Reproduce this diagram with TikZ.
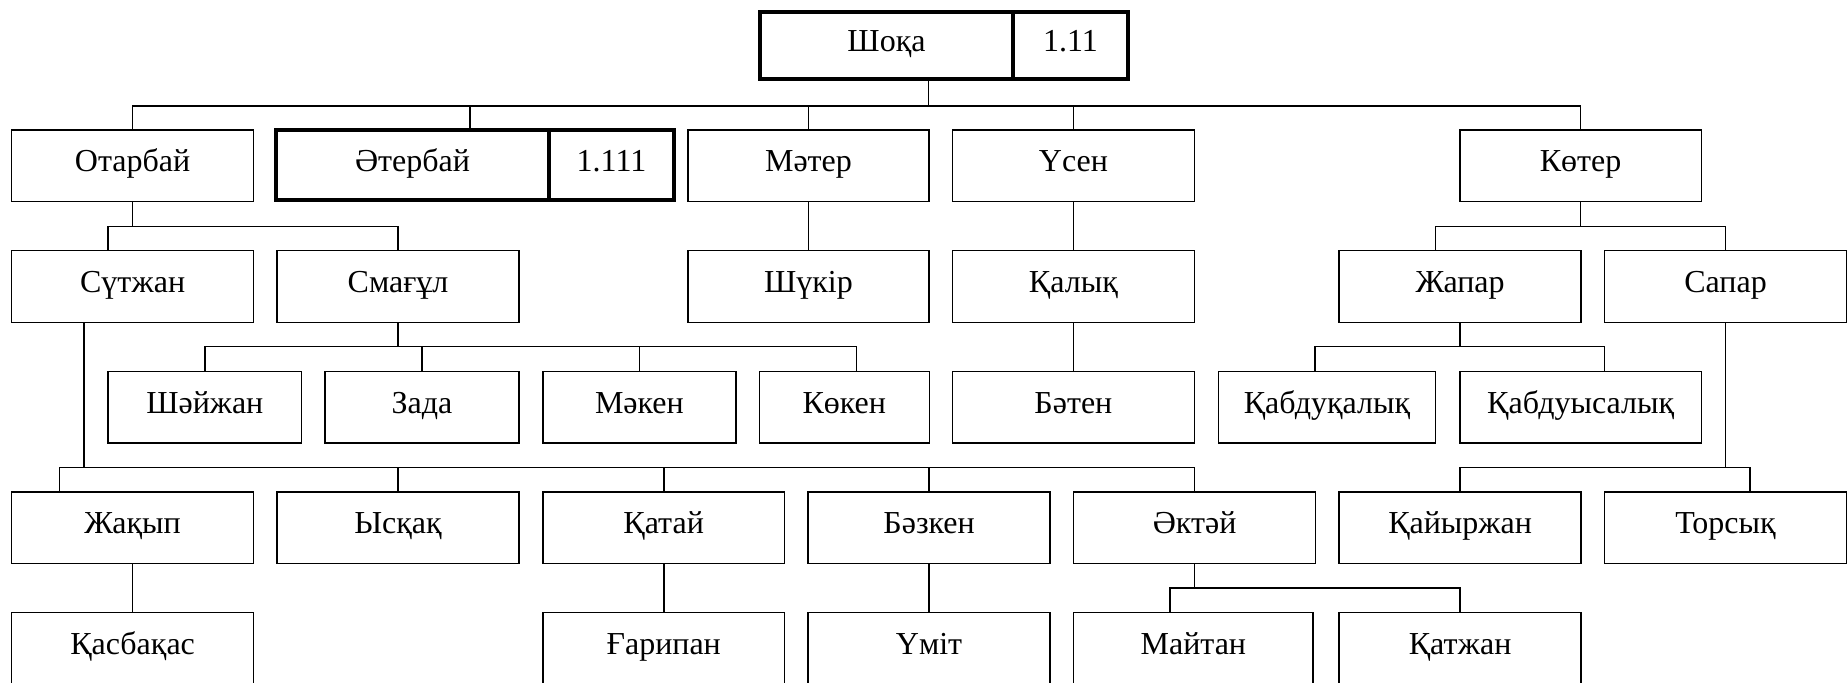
\documentclass[tikz,border=0pt]{standalone}
\usepackage{fontspec}
\setmainfont{Liberation Serif}
\usepackage{tikz}
\usetikzlibrary{positioning, calc}

\begin{document}
\begin{tikzpicture}[x=0.5pt, y=-0.5pt,
  font=\fontsize{16}{19}\selectfont,
  tulga/.style={draw, line width=0.75pt, inner sep=0pt, outer sep=0pt,
    minimum width=120.9pt, minimum height=35.85pt,
    text height=11.2pt, text depth=5.1pt},
  tulgaB/.style={tulga, line width=2pt},
  link/.style={line width=0.8pt}]

  % ── Cadre (1 px = 0.5 pt) ──
  \useasboundingbox (0,0) rectangle (1847,683);

  % ── Racine ──
  \node[tulgaB, minimum width=126.5pt, minimum height=33.75pt]
    (shoqa) at (886.5,45.75) {Шоқа};
  \node[tulgaB, minimum width=57.5pt, minimum height=33.75pt, right=0pt of shoqa]
    (shoqanum) {1.11};

  % ── Niveau 1 ──
  \node[tulga] (otarbay) at (132.6,165.85) {Отарбай};
  \node[tulgaB, minimum width=136.5pt, minimum height=34.85pt]
    (aterbay) at (412.5,165.15) {Әтербай};
  \node[tulgaB, minimum width=62.5pt, minimum height=34.85pt, right=0pt of aterbay]
    (aterbaynum) {1.111};
  \node[tulga, minimum width=120.5pt] (mater) at (808.5,165.85) {Мәтер};
  \node[tulga] (usen) at (1073.4,165.85) {Үсен};
  \node[tulga] (koter) at (1580.65,165.85) {Көтер};

  % ── Niveau 2 ──
  \node[tulga] (sutzhan) at (132.6,286.6) {Сүтжан};
  \node[tulga] (smagul) at (398,286.6) {Смағұл};
  \node[tulga, minimum width=120.5pt] (shukir) at (808.5,286.6) {Шүкір};
  \node[tulga] (qalyq) at (1073.4,286.6) {Қалық};
  \node[tulga] (zhapar) at (1460.1,286.6) {Жапар};
  \node[tulga] (sapar) at (1725.5,286.6) {Сапар};

  % ── Niveau 3 ──
  \node[tulga, minimum width=96.8pt] (shaizhan) at (204.8,407.15) {Шәйжан};
  \node[tulga, minimum width=96.9pt] (zada) at (421.9,407.15) {Зада};
  \node[tulga, minimum width=96.6pt] (maken) at (639.4,407.15) {Мәкен};
  \node[tulga, minimum width=85pt] (koken) at (844.3,407.15) {Көкен};
  \node[tulga] (baten) at (1073.4,407.15) {Бәтен};
  \node[tulga, minimum width=108.45pt] (qabduqalyq) at (1327,407.15) {Қабдуқалық};
  \node[tulga] (qabduysalyq) at (1580.65,407.15) {Қабдуысалық};

  % ── Niveau 4 ──
  \node[tulga] (zhaqyp) at (132.6,527.85) {Жақып};
  \node[tulga] (ysqaq) at (398,527.85) {Ысқақ};
  \node[tulga] (qatai) at (663.7,527.85) {Қатай};
  \node[tulga] (bazken) at (929.1,527.85) {Бәзкен};
  \node[tulga] (aktai) at (1194.6,527.85) {Әктәй};
  \node[tulga] (qaiyrzhan) at (1460.1,527.85) {Қайыржан};
  \node[tulga] (torsyq) at (1725.5,527.85) {Торсық};

  % ── Niveau 5 (coupé en bas) ──
  \node[tulga, minimum height=36.25pt] (qasbaqas) at (132.6,648.55) {Қасбақас};
  \node[tulga, minimum height=36.25pt] (gharipan) at (663.7,648.55) {Ғарипан};
  \node[tulga, minimum height=36.25pt] (umit) at (929.1,648.55) {Үміт};
  \node[tulga, minimum height=36.25pt, minimum width=119.65pt]
    (maitan) at (1193.35,648.55) {Майтан};
  \node[tulga, minimum height=36.25pt] (qatzhan) at (1460.1,648.55) {Қатжан};

  % ── Barres horizontales ──
  \coordinate (b0) at (0,106);
  \coordinate (b1) at (0,226.7);
  \coordinate (b2) at (0,346.7);
  \coordinate (b3) at (0,467.7);
  \coordinate (b4) at (0,588.3);

  % Шоқа
  \coordinate (s0) at ($(shoqa.south)+(42,0)$);
  \draw[link] (s0) -- (s0 |- b0);
  \draw[link] (otarbay.north) |- (koter.north |- b0) -- (koter.north);
  \coordinate (d0) at ($(aterbay.north)+(57.5,0)$);
  \draw[link] (d0) -- (d0 |- b0);
  \foreach \n in {mater, usen}
    \draw[link] (\n.north) -- (\n.north |- b0);

  % Отарбай
  \draw[link] (otarbay.south) -- (otarbay.south |- b1);
  \coordinate (d1) at ($(sutzhan.north)+(-24.6,0)$);
  \draw[link] (d1) |- (smagul.north |- b1) -- (smagul.north);

  % Көтер
  \draw[link] (koter.south) -- (koter.south |- b1);
  \coordinate (d2) at ($(zhapar.north)+(-24.6,0)$);
  \draw[link] (d2) |- (sapar.north |- b1) -- (sapar.north);

  % liaisons directes
  \foreach \a/\b in {mater/shukir, usen/qalyq, qalyq/baten,
                     zhaqyp/qasbaqas, qatai/gharipan, bazken/umit}
    \draw[link] (\a.south) -- (\b.north);

  % Смағұл
  \draw[link] (smagul.south) -- (smagul.south |- b2);
  \coordinate (d3) at ($(koken.north)+(12.2,0)$);
  \draw[link] (shaizhan.north) |- (d3 |- b2) -- (d3);
  \foreach \n in {zada, maken}
    \draw[link] (\n.north) -- (\n.north |- b2);

  % Жапар
  \draw[link] (zhapar.south) -- (zhapar.south |- b2);
  \coordinate (d4) at ($(qabduqalyq.north)+(-12,0)$);
  \coordinate (d5) at ($(qabduysalyq.north)+(23.9,0)$);
  \draw[link] (d4) |- (d5 |- b2) -- (d5);

  % Сүтжан
  \coordinate (s1) at ($(sutzhan.south)+(-48.6,0)$);
  \draw[link] (s1) -- (s1 |- b3);
  \coordinate (d6) at ($(zhaqyp.north)+(-73.1,0)$);
  \draw[link] (d6) |- (aktai.north |- b3) -- (aktai.north);
  \foreach \n in {ysqaq, qatai, bazken}
    \draw[link] (\n.north) -- (\n.north |- b3);

  % Сапар
  \draw[link] (sapar.south) -- (sapar.south |- b3);
  \coordinate (d7) at ($(torsyq.north)+(24.5,0)$);
  \draw[link] (qaiyrzhan.north) |- (d7 |- b3) -- (d7);

  % Әктәй
  \draw[link] (aktai.south) -- (aktai.south |- b4);
  \coordinate (d8) at ($(maitan.north)+(-23.35,0)$);
  \draw[link] (d8) |- (qatzhan.north |- b4) -- (qatzhan.north);

\end{tikzpicture}
\end{document}
